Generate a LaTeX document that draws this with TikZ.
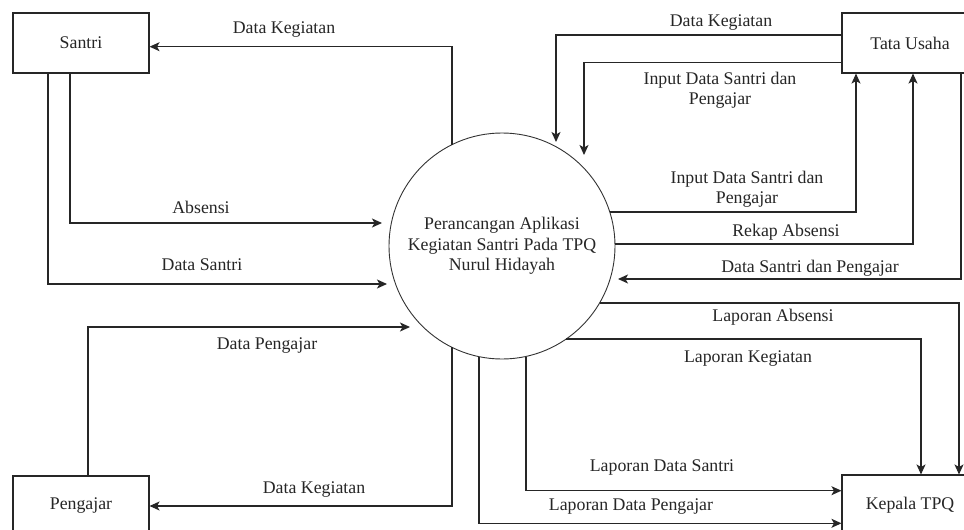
\documentclass[tikz,border=0pt]{standalone}
\usepackage{fontspec}
\setmainfont{Liberation Serif}
\usetikzlibrary{arrows.meta}
\begin{document}
\begin{tikzpicture}[x=1pt,y=-1pt,
  every node/.style={font=\fontsize{17.8}{20.5}\selectfont, text=black!85},
  ebox/.style={draw=black!85, line width=1.1pt, minimum width=136pt, minimum height=60pt, inner sep=0pt},
  proc/.style={draw=black!80, line width=0.9pt, circle, minimum size=226pt, inner sep=0pt, align=center},
  arr/.style={draw=black!85, line width=1.1pt, -{Stealth[length=10pt,width=9pt,inset=2.5pt]}},
  lbl/.style={align=center, inner sep=0pt}]
\useasboundingbox (0,0) rectangle (964,530);
\fill[white] (0,0) rectangle (964,530);

\node[ebox] (santri) at (81,43) {Santri};
\node[ebox] (tu) at (910,43) {Tata Usaha};
\node[ebox] (kepala) at (910,505) {Kepala TPQ};
\node[ebox] (pengajar) at (81,506) {Pengajar};
\node[proc] (p) at (502,246) {Perancangan Aplikasi\\Kegiatan Santri Pada TPQ\\Nurul Hidayah};

\coordinate (c1) at (452,145);
\coordinate (a2) at (382,223);
\coordinate (a3) at (387,284);
\coordinate (a4) at (410,327);
\coordinate (c5) at (452,347);
\coordinate (a6) at (556,142);
\coordinate (a7) at (584,155);
\coordinate (c8) at (610,212);
\coordinate (c9) at (615,244);
\coordinate (a10) at (618,279);
\coordinate (c11) at (600,303);
\coordinate (c12) at (566,339);
\coordinate (c13) at (526,356.5);
\coordinate (c14) at (479,357);

\draw[arr] (c1) |- ([yshift=-3.7pt]santri.east);
\draw[arr] ([xshift=-11pt]santri.south) |- (a2);
\draw[arr] ([xshift=-33pt]santri.south) |- (a3);
\draw[arr] ([xshift=7pt]pengajar.north) |- (a4);
\draw[arr] (c5) |- (pengajar.east);
\draw[arr] ([yshift=8pt]tu.west) -| (a6);
\draw[arr] ([yshift=-19.3pt]tu.west) -| (a7);
\draw[arr] (c8) -| ([xshift=-54pt]tu.south);
\draw[arr] (c9) -| ([xshift=3pt]tu.south);
\draw[arr] ([xshift=51pt]tu.south) |- (a10);
\draw[arr] (c11) -| ([xshift=49pt]kepala.north);
\draw[arr] (c12) -| ([xshift=11pt]kepala.north);
\draw[arr] (c13) |- ([yshift=14.3pt]kepala.west);
\draw[arr] (c14) |- ([yshift=-18.3pt]kepala.west);

\node[lbl] (l1) at (284,30) {Data Kegiatan};
\node[lbl] (l2) at (201,207) {Absensi};
\node[lbl] (l3) at (202,265) {Data Santri};
\node[lbl] (l4) at (267,346) {Data Pengajar};
\node[lbl] (l5) at (314,490) {Data Kegiatan};
\node[lbl] (l6) at (721,23) {Data Kegiatan};
\node[lbl] (l7) at (720,90) {Input Data Santri dan\\Pengajar};
\node[lbl] (l8) at (747,189) {Input Data Santri dan\\Pengajar};
\node[lbl] (l9) at (786,232) {Rekap Absensi};
\node[lbl] (l10) at (810,268) {Data Santri dan Pengajar};
\node[lbl] (l11) at (773,317) {Laporan Absensi};
\node[lbl] (l12) at (748,359) {Laporan Kegiatan};
\node[lbl] (l13) at (662,467) {Laporan Data Santri};
\node[lbl] (l14) at (631,507) {Laporan Data Pengajar};
\end{tikzpicture}
\end{document}
